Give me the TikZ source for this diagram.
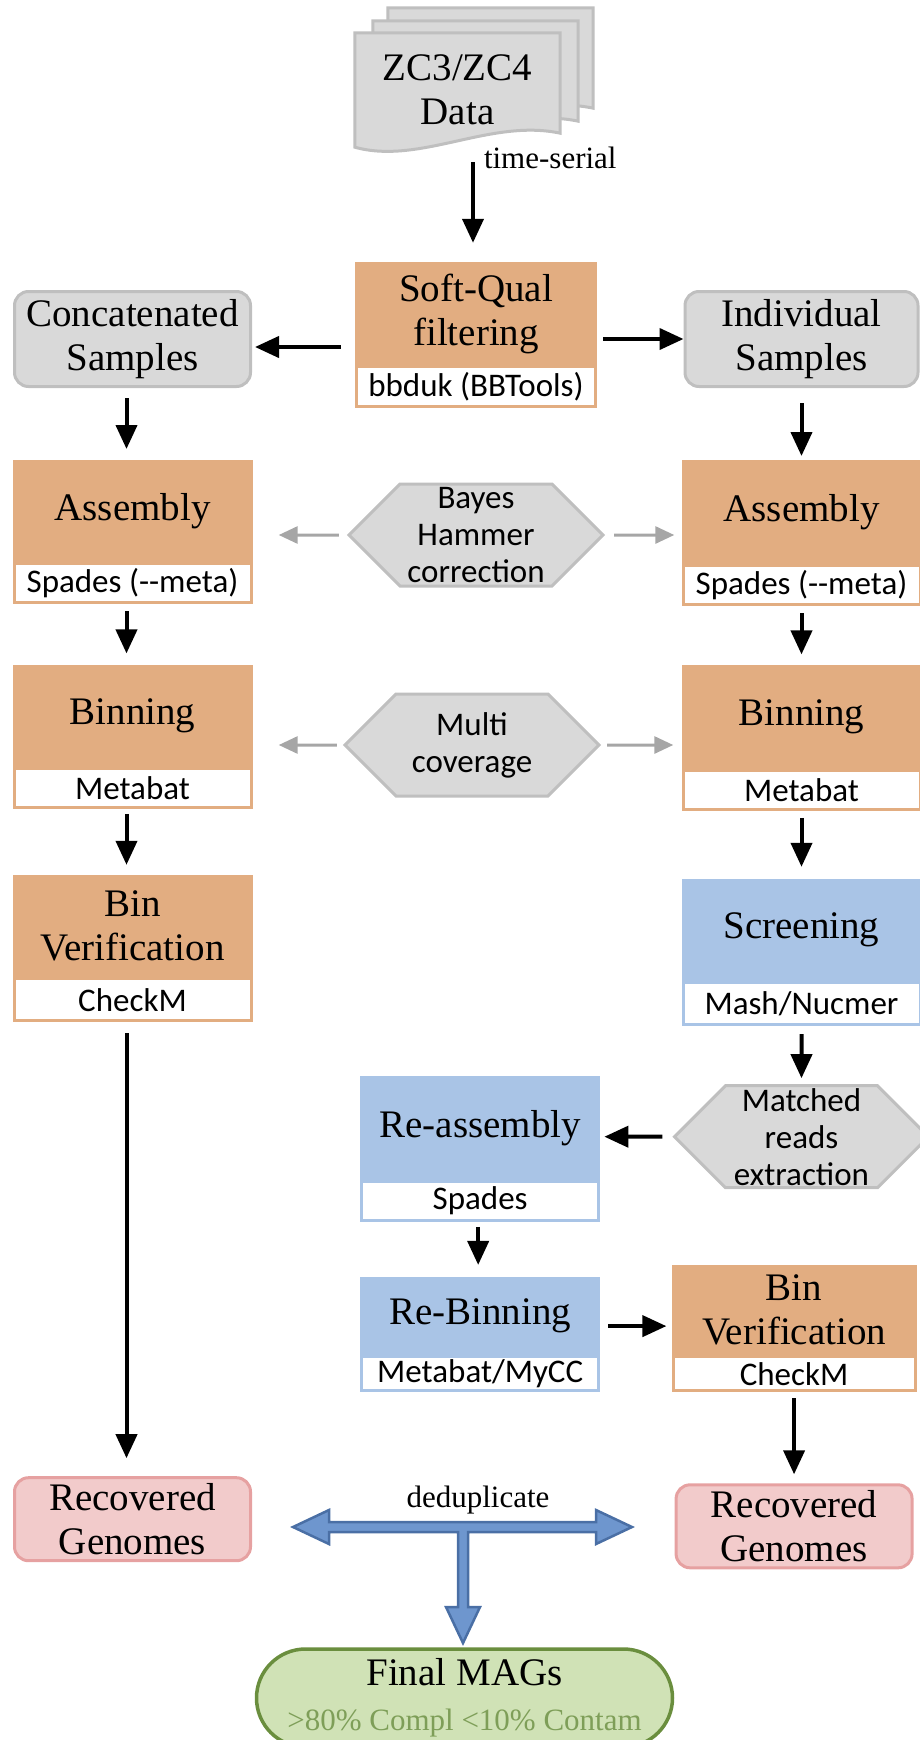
\documentclass[tikz,border=0pt]{standalone}
\usepackage{fontspec}
\setmainfont{Liberation Serif}
\newfontfamily\calibri{Carlito}
\usepackage{tikz}
\usetikzlibrary{arrows.meta,positioning,shapes.symbols,backgrounds,calc}
\definecolor{cOrange}{HTML}{E2AD81}
\definecolor{cBlue}{HTML}{A9C4E6}
\definecolor{cGrey}{HTML}{D9D9D9}
\definecolor{cGreyLine}{HTML}{BFBFBF}
\definecolor{cPink}{HTML}{F2CBCB}
\definecolor{cPinkLine}{HTML}{E6A1A1}
\definecolor{cGreen}{HTML}{D0E2B6}
\definecolor{cGreenLine}{HTML}{6A8E3E}
\definecolor{cGreenTxt}{HTML}{7E9E58}
\definecolor{cFat}{HTML}{6E96CE}
\definecolor{cFatLine}{HTML}{4A6FA5}
\definecolor{cSide}{HTML}{A6A6A6}
\newcommand\bigsize{\fontsize{39}{44}\selectfont}
\newcommand\toolsize{\calibri\fontsize{33}{38}\selectfont}
\newcommand\hexsize{\calibri\fontsize{33}{37}\selectfont}
\newcommand\notesize{\fontsize{31}{37}\selectfont}
\tikzset{
  stage/.style={fill=#1, minimum width=240pt, minimum height=102pt,
                inner sep=2pt, align=center, font=\bigsize},
  orng/.style={stage=cOrange},
  blu/.style={stage=cBlue},
  tool/.style={draw=#1, fill=white, line width=3pt, minimum width=237pt,
               minimum height=39pt, inner sep=0pt, font=\toolsize},
  sample/.style={rounded corners=14pt, draw=cGreyLine, line width=3pt, fill=cGrey,
                 align=center, font=\bigsize, minimum width=236pt, minimum height=95pt},
  result/.style={sample, draw=cPinkLine, fill=cPink, minimum height=83pt},
  hexa/.style={signal, signal to=east and west, signal pointer angle=90,
               draw=cGreyLine, line width=3pt, fill=cGrey, align=center,
               font=\hexsize, inner sep=0pt, minimum width=254pt, minimum height=102pt},
  final/.style={rounded corners=49pt, draw=cGreenLine, line width=3.5pt, fill=cGreen,
                align=center, font=\bigsize, minimum width=416pt, minimum height=98pt},
  doc/.style={draw=cGreyLine, line width=3pt, fill=cGrey},
  flow/.style={-{Triangle[length=24pt,width=21pt]}, line width=4pt},
  side/.style={-{Triangle[length=19pt,width=17pt]}, line width=3pt, draw=cSide},
  fat/.style={draw=cFatLine, line width=2.5pt, fill=cFat, line join=miter},
  lbl/.style={font=\notesize, inner sep=0pt},
}

\begin{document}
\begin{tikzpicture}[x=1pt, y=-1pt]
  \useasboundingbox (0,0) rectangle (919,1740);

  % stacked input files
  \node[font=\bigsize, align=center, inner sep=0pt, minimum width=205pt,
        minimum height=114pt] (data) at (457.5,90) {ZC3/ZC4\\Data};
  \begin{scope}[on background layer]
    \foreach \dx/\dy in {33/-25, 18/-12, 0/0}
      \draw[doc] ($(data.north west)+(\dx,\dy)$) -- ($(data.north east)+(\dx,\dy)$)
        -- ($(data.south east)+(\dx,\dy-14)$)
        .. controls ($(data.south east)+(\dx-70,\dy-29)$) and ($(data.south west)+(\dx+65,\dy+18)$)
        .. ($(data.south west)+(\dx,\dy)$) -- cycle;
  \end{scope}

  \node[orng, minimum width=242pt, minimum height=103pt] (softq) at (476,313.5) {Soft-Qual\\filtering};
  \node[tool=cOrange, minimum width=239pt, minimum height=40pt, below=0pt of softq] (bbduk) {bbduk (BBTools)};

  \node[sample] (concat) at (132.5,339) {Concatenated\\Samples};
  \node[sample, minimum width=233pt] (indiv) at (801.5,339) {Individual\\Samples};

  % concatenated branch
  \node[orng, below=72pt of concat] (asmL) {Assembly};
  \node[tool=cOrange, below=0pt of asmL] (asmLt) {Spades (-{}-meta)};
  \node[orng, below=60pt of asmLt] (binL) {Binning};
  \node[tool=cOrange, below=0pt of binL] (binLt) {Metabat};
  \node[orng, below=66pt of binLt] (bvL) {Bin\\Verification};
  \node[tool=cOrange, minimum height=42pt, below=0pt of bvL] (bvLt) {CheckM};
  \node[result, below=454pt of bvLt] (recL) {Recovered\\Genomes};

  % individual branch
  \node[orng, minimum height=104pt, below=72pt of indiv] (asmR) {Assembly};
  \node[tool=cOrange, below=0pt of asmR] (asmRt) {Spades (-{}-meta)};
  \node[orng, minimum height=104pt, below=58pt of asmRt] (binR) {Binning};
  \node[tool=cOrange, below=0pt of binR] (binRt) {Metabat};
  \node[blu, below=68pt of binRt] (screen) {Screening};
  \node[tool=cBlue, minimum height=42pt, below=0pt of screen] (mash) {Mash/Nucmer};
  \node[hexa, below=58pt of mash] (match) {Matched\\reads\\extraction};
  \node[blu, minimum height=104pt, left=72pt of match, yshift=9pt] (reasm) {Re-assembly};
  \node[tool=cBlue, below=0pt of reasm] (spades) {Spades};
  \node[blu, minimum height=78pt, below=55pt of spades] (rebin) {Re-Binning};
  \node[tool=cBlue, minimum height=34pt, below=0pt of rebin] (mycc) {Metabat/MyCC};
  \node[orng, minimum width=245pt, minimum height=90pt, right=71pt of rebin, yshift=6pt] (bvR) {Bin\\Verification};
  \node[tool=cOrange, minimum width=242pt, minimum height=34pt, below=0pt of bvR] (checkR) {CheckM};
  \node[result, below=91pt of checkR] (recR) {Recovered\\Genomes};

  % shared steps between the branches
  \node[hexa] (bayes) at (476,535) {Bayes\\Hammer\\correction};
  \node[hexa] (multi) at (472,745) {Multi\\coverage};

  \node[final] (mags) at (464.5,1698) {Final MAGs\\[1pt]{\notesize\color{cGreenTxt}>80\% Compl <10\% Contam}};

  \draw[flow, shorten >=19pt] ($(data.south)+(15.5,15)$) -- ($(softq.north)+(-3,0)$)
    node[lbl, pos=0, anchor=west, xshift=9pt, yshift=4pt] {time-serial};
  \draw[flow, shorten <=14pt, shorten >=3pt] ($(softq.west |- concat.east)+(0,8)$) -- ($(concat.east)+(0,8)$);
  \draw[flow, shorten <=6pt] (softq.east |- indiv.west) -- (indiv.west);

  \draw[flow, shorten <=10pt, shorten >=11pt] ($(concat.south)+(-6,0)$) -- ($(asmL.north)+(-6,0)$);
  \draw[flow, shorten <=7pt, shorten >=11pt] ($(asmLt.south)+(-6,0)$) -- ($(binL.north)+(-6,0)$);
  \draw[flow, shorten <=5pt, shorten >=10pt] ($(binLt.south)+(-6,0)$) -- ($(bvL.north)+(-6,0)$);
  \draw[flow, shorten <=11pt, shorten >=18pt] ($(bvLt.south)+(-6,0)$) -- ($(recL.north)+(-6,0)$);

  \draw[flow, shorten <=15pt, shorten >=4pt] (indiv) -- (asmR);
  \draw[flow, shorten <=7pt, shorten >=10pt] (asmRt) -- (binR);
  \draw[flow, shorten <=7pt, shorten >=12pt] (binRt) -- (screen);
  \draw[flow, shorten <=8pt, shorten >=6pt] (mash) -- (match);
  \draw[flow, shorten <=10pt, shorten >=4pt] (match) -- (match -| reasm.east);
  \draw[flow, shorten <=5pt, shorten >=12pt] ($(spades.south)+(-2,0)$) -- ($(rebin.north)+(-2,0)$);
  \draw[flow, shorten <=8pt, shorten >=5pt] ($(rebin.east)+(0,10)$) -- ($(rebin.east -| bvR.west)+(0,10)$);
  \draw[flow, shorten <=6pt, shorten >=9pt] (checkR) -- (recR);

  \draw[side, shorten <=8pt, shorten >=26pt] (bayes) -- (bayes -| asmL.east);
  \draw[side, shorten <=9pt, shorten >=7pt] (bayes) -- (bayes -| asmR.west);
  \draw[side, shorten <=6pt, shorten >=26pt] (multi) -- (multi -| binL.east);
  \draw[side, shorten <=6pt, shorten >=8pt] (multi) -- (multi -| binR.west);

  % merge of both genome sets
  \coordinate (dedup) at (463,1527);
  \draw[fat] ($(dedup)+(-170,0)$) -- ++(36,-17) -- ++(0,12) -- ++(267,0) -- ++(0,-12)
    -- ++(36,17) -- ++(-36,17) -- ++(0,-12) -- ++(-128,0) -- ++(0,75) -- ++(12,0)
    -- ++(-17,36) -- ++(-17,-36) -- ++(12,0) -- ++(0,-75) -- ++(-129,0) -- ++(0,12) -- cycle;
  \node[lbl] (deduptxt) at (478,1500) {deduplicate};
\end{tikzpicture}
\end{document}
